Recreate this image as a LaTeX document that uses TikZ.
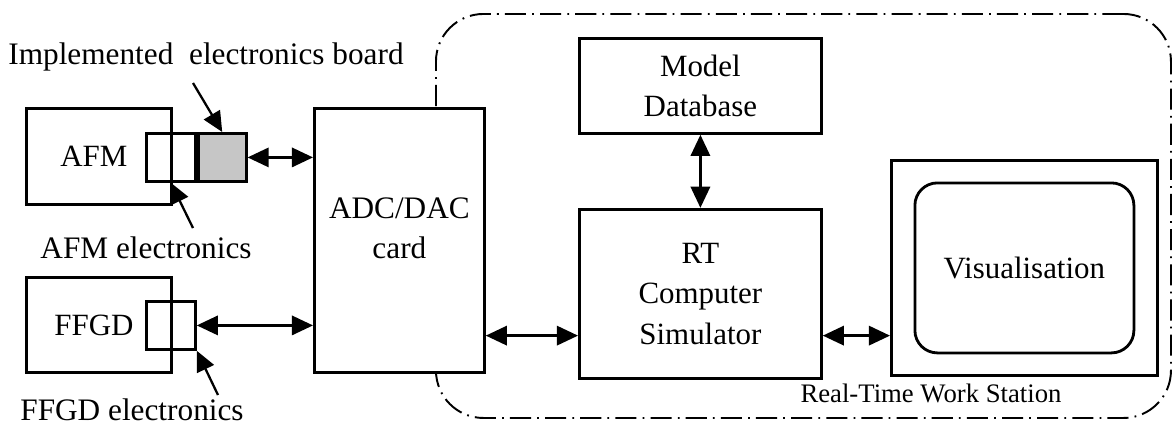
\documentclass[tikz,border=0pt]{standalone}
\usepackage{fontspec}
\setmainfont{Liberation Serif}
\usetikzlibrary{positioning,calc,arrows.meta}
\tikzset{
    box/.style={draw, line width=1.6pt, align=center, inner sep=0pt, font=\fontsize{17.6}{23}\selectfont},
    note/.style={inner sep=0pt, font=\fontsize{17.8}{20}\selectfont},
    link/.style={{Triangle[length=12pt,width=11pt]}-{Triangle[length=12pt,width=11pt]}, line width=1.3pt},
    pointer/.style={-{Triangle[length=11.5pt,width=10.5pt]}, line width=1.3pt},
}

\begin{document}
\begin{tikzpicture}[region/.style={draw, line width=1.1pt, dash pattern=on 12pt off 3.5pt on 1pt off 3.5pt, rounded corners=0.95cm, anchor=north west}]
  \useasboundingbox (0,0) rectangle (23.46,-8.54);

  \node [region, minimum width=14.70cm, minimum height=8.08cm] (station) at (8.70,-0.26) {};
  \node [note, font=\fontsize{15.2}{17}\selectfont] (stationtitle) at (18.62,-7.86) {Real-Time Work Station};

  \node [box, minimum width=2.90cm, minimum height=1.92cm, anchor=north west] (afm) at (0.50,-2.14) {AFM\hspace*{0.2cm}};
  \node [box, minimum width=0.98cm, minimum height=0.96cm, anchor=north west] (afmelec) at (2.90,-2.64) {};
  \node [box, minimum width=0.96cm, minimum height=0.96cm, right=0cm of afmelec, fill=gray!45] (board) {};

  \node [box, minimum width=2.90cm, minimum height=1.90cm, anchor=north west] (ffgd) at (0.50,-5.52) {FFGD\hspace*{0.2cm}};
  \node [box, minimum width=0.98cm, minimum height=0.96cm, anchor=north west] (ffgdelec) at (2.90,-6.00) {};

  \node [box, minimum width=3.40cm, minimum height=5.28cm, anchor=north west, fill=white] (adc) at (6.26,-2.14) {};
  \node [note, font=\fontsize{17.8}{23}\selectfont, align=center] (adctitle) at ([yshift=0.24cm]adc.center) {ADC/DAC\\card};

  \node [box, minimum width=4.84cm, minimum height=1.90cm, anchor=north west] (model) at (11.56,-0.74) {Model\\Database};
  \node [box, minimum width=4.84cm, minimum height=3.38cm, below=1.46cm of model] (rt) {RT\\Computer\\Simulator};

  \node [box, minimum width=5.32cm, minimum height=4.30cm, anchor=north west] (vis) at (17.80,-3.18) {};
  \node [box, minimum width=4.38cm, minimum height=3.40cm, rounded corners=0.45cm] (visin) at (vis.center) {Visualisation};

  \node [note] (boardtitle) at (4.12,-1.14) {Implemented\ \ electronics board};
  \node [note] (afmtitle) at (2.92,-4.96) {AFM electronics};
  \node [note] (ffgdtitle) at (2.64,-8.20) {FFGD electronics};

  % FLECHAS
  \coordinate (boardtail) at (3.86,-1.66);
  \coordinate (afmtail) at (3.86,-4.56);
  \coordinate (ffgdtail) at (4.36,-7.90);
  \coordinate (simlink) at ($(rt.south west)+(0,0.88)$);
  \draw[pointer] (boardtail) -- (board.north);
  \draw[pointer] (afmtail) -- (afmelec.south);
  \draw[pointer] (ffgdtail) -- (ffgdelec.south east);
  \draw[link] (board.east) -- (board.east -| adc.west);
  \draw[link] (ffgdelec.east) -- (ffgdelec.east -| adc.west);
  \draw[link] (adc.east |- simlink) -- (simlink);
  \draw[link] (rt.east |- simlink) -- (vis.west |- simlink);
  \draw[link] (model.south) -- (rt.north);
\end{tikzpicture}
\end{document}
